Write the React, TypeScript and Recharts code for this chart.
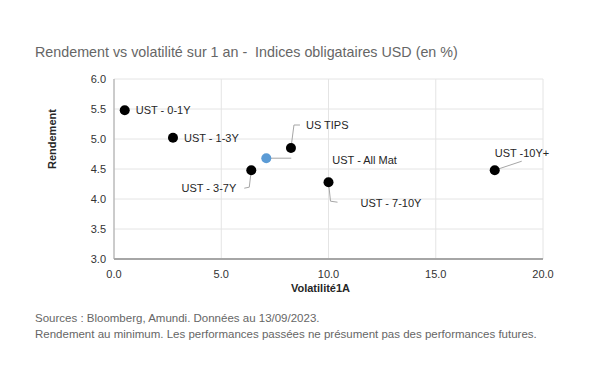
import { ScatterChart, Scatter, XAxis, YAxis, CartesianGrid, Cell } from "recharts";

const names = ["UST - 0-1Y", "UST - 1-3Y", "US TIPS", "UST - All Mat", "UST - 3-7Y", "UST - 7-10Y", "UST -10Y+"];
const volatility = [0.5, 2.75, 8.25, 7.1, 6.4, 10.0, 17.75];
const returns = [5.48, 5.02, 4.85, 4.68, 4.48, 4.28, 4.48];
const xTicks = [0, 5, 10, 15, 20];
const yTicks = [3.0, 3.5, 4.0, 4.5, 5.0, 5.5, 6.0];

const data = names.map((name, i) => ({ name, x: volatility[i], y: returns[i] }));

const FONT = "'Liberation Sans', Arial, sans-serif";

// label placement relative to the dot: text offset, anchor, leader line points
const LABELS: Record<string, { dx: number; dy: number; anchor: "start" | "end"; line?: number[][] }> = {
  "UST - 0-1Y": { dx: 11, dy: 0, anchor: "start" },
  "UST - 1-3Y": { dx: 11, dy: 0, anchor: "start" },
  "US TIPS": { dx: 15, dy: -23, anchor: "start", line: [[0, 0], [3, -23], [9, -23]] },
  "UST - All Mat": { dx: 66, dy: 2, anchor: "start", line: [[0, 0], [25, 0]] },
  "UST - 3-7Y": { dx: -15, dy: 18, anchor: "end", line: [[0, 0], [-2, 17], [-7, 18]] },
  "UST - 7-10Y": { dx: 32, dy: 21, anchor: "start", line: [[0, 0], [2, 19], [9, 20]] },
  "UST -10Y+": { dx: 0, dy: -17, anchor: "start", line: [[0, 0], [27, -9]] },
};

const Dot = (props: any) => {
  const { cx, cy, payload, fill } = props;
  const cfg = LABELS[payload.name];
  return (
    <g>
      {cfg.line && (
        <polyline
          points={cfg.line.map(([a, b]) => `${cx + a},${cy + b}`).join(" ")}
          fill="none"
          stroke="#a6a6a6"
          strokeWidth={1}
        />
      )}
      <circle cx={cx} cy={cy} r={5} fill={fill} />
      <text
        x={cx + cfg.dx}
        y={cy + cfg.dy}
        textAnchor={cfg.anchor}
        dominantBaseline="central"
        fontSize={11}
        fill="#262626"
        fontFamily={FONT}
      >
        {payload.name}
      </text>
    </g>
  );
};

export default function App() {
  return (
    <div style={{ position: "fixed", left: 0, top: 0, width: 611, height: 378, background: "#fff", fontFamily: FONT }}>
      <div style={{ position: "absolute", left: 35, top: 44, fontSize: 14.3, color: "#666", whiteSpace: "pre" }}>
        Rendement vs volatilité sur 1 an -  Indices obligataires USD (en %)
      </div>
      <ScatterChart width={611} height={378} margin={{ top: 79, right: 68, bottom: 89, left: 0 }}>
        <CartesianGrid stroke="#e4e4e4" />
        <XAxis
          type="number"
          dataKey="x"
          domain={[0, 20]}
          ticks={xTicks}
          tickFormatter={(v) => v.toFixed(1)}
          height={30}
          tickSize={0}
          tickMargin={11}
          stroke="#a6a6a6"
          strokeWidth={2}
          tick={{ fontSize: 11, fill: "#333", fontFamily: FONT }}
          label={{ value: "Volatilité1A", position: "insideBottom", offset: -3, dx: -8, fontSize: 11, fontWeight: "bold", fill: "#262626", fontFamily: FONT }}
        />
        <YAxis
          type="number"
          dataKey="y"
          domain={[3, 6]}
          ticks={yTicks}
          tickFormatter={(v) => v.toFixed(1)}
          width={114}
          tickSize={0}
          tickMargin={8}
          stroke="#a6a6a6"
          tick={{ fontSize: 11, fill: "#333", fontFamily: FONT }}
          label={{ value: "Rendement", angle: -90, position: "insideLeft", offset: 52, fontSize: 11, fontWeight: "bold", fill: "#262626", fontFamily: FONT }}
        />
        <Scatter data={data} shape={<Dot />} isAnimationActive={false}>
          {data.map((d) => (
            <Cell key={d.name} fill={d.name === "UST - All Mat" ? "#5b9bd5" : "#000"} />
          ))}
        </Scatter>
      </ScatterChart>
      <div style={{ position: "absolute", left: 35, top: 310, fontSize: 11.5, color: "#666", lineHeight: "16px" }}>
        Sources : Bloomberg, Amundi. Données au 13/09/2023.
        <br />
        Rendement au minimum. Les performances passées ne présument pas des performances futures.
      </div>
    </div>
  );
}
